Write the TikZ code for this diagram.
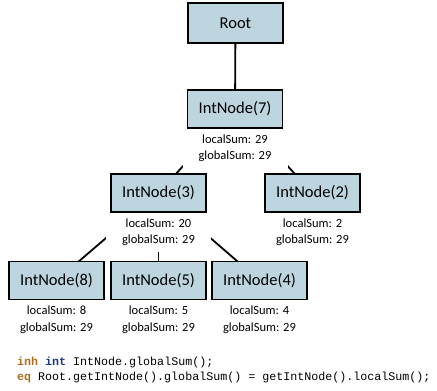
\documentclass[tikz,border=0pt]{standalone}
\usepackage{fontspec}
\setmainfont{Carlito}
\newfontfamily\codefont{Liberation Mono}
\usetikzlibrary{backgrounds}
\definecolor{boxfill}{RGB}{188,213,223}
\definecolor{kwbrown}{RGB}{170,110,30}
\definecolor{kwblue}{RGB}{30,55,140}
\tikzset{
  tnode/.style={draw=black, line width=1.4pt, fill=boxfill, minimum width=95pt, minimum height=38pt, inner sep=0pt, font=\fontsize{16.5}{19}\selectfont},
  info/.style={fill=white, minimum width=105pt, minimum height=39pt, inner sep=0pt, align=center, anchor=north, font=\fontsize{12.5}{16.5}\selectfont},
  conn/.style={draw=black, line width=1.8pt},
  code/.style={anchor=west, inner sep=0pt, font=\codefont\fontsize{11.67}{14}\selectfont}
}
\begin{document}
\begin{tikzpicture}[x=1pt, y=-1pt]
\useasboundingbox (0,0) rectangle (437,391);
\node[tnode, minimum height=40pt] (root) at (235.5,23) {Root};
\node[tnode] (n7) at (235,109) {IntNode(7)};
\node[tnode] (n3) at (158.5,193) {IntNode(3)};
\node[tnode] (n2) at (312.5,193) {IntNode(2)};
\node[tnode] (n8) at (56.5,280.5) {IntNode(8)};
\node[tnode] (n5) at (158.5,280.5) {IntNode(5)};
\node[tnode] (n4) at (259.5,280.5) {IntNode(4)};
\node[info] (i7) at (n7.south) {localSum: 29\\globalSum: 29};
\node[info] (i3) at (n3.south) {localSum: 20\\globalSum: 29};
\node[info] (i2) at (n2.south) {localSum: 2\\globalSum: 29};
\node[info] (i8) at (n8.south) {localSum: 8\\globalSum: 29};
\node[info] (i5) at (n5.south) {localSum: 5\\globalSum: 29};
\node[info] (i4) at (n4.south) {localSum: 4\\globalSum: 29};
\begin{pgfonlayer}{background}
\draw[conn] (root.center) -- (n7.center);
\draw[conn] (n7.center) -- (n3.center);
\draw[conn] (n7.center) -- (n2.center);
\draw[conn] (n3.center) -- (n8.center);
\draw[conn] (n3.center) -- (n5.center);
\draw[conn] (n3.center) -- (n4.center);
\end{pgfonlayer}
\node[code] (c1) at (17,362) {\textcolor{kwbrown}{\bfseries inh} \textcolor{kwblue}{\bfseries int} IntNode.globalSum();};
\node[code] (c2) at (17,377) {\textcolor{kwbrown}{\bfseries eq} Root.getIntNode().globalSum() = getIntNode().localSum();};
\end{tikzpicture}
\end{document}
